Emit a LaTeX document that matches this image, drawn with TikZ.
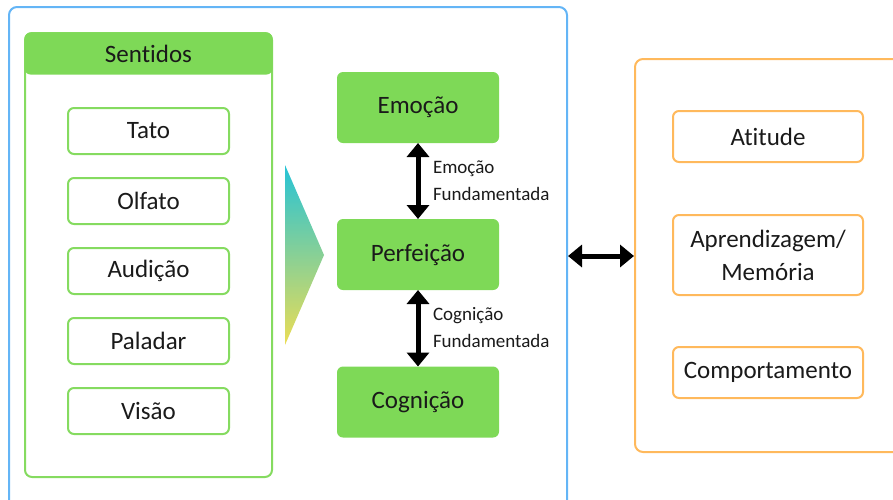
\documentclass[tikz,border=0pt]{standalone}
\usepackage{fontspec}
\setmainfont{Carlito}[Ligatures=NoCommon]
\usetikzlibrary{arrows.meta}
\definecolor{gfill}{HTML}{7ED957}
\definecolor{gline}{HTML}{85DB60}
\definecolor{bline}{HTML}{64B5F6}
\definecolor{oline}{HTML}{FFB95C}
\definecolor{txt}{HTML}{1A1A1A}
\definecolor{tealc}{HTML}{26C3D6}
\definecolor{midc}{HTML}{88CBA0}
\definecolor{yelc}{HTML}{EBDD55}
\begin{document}
\begin{tikzpicture}[x=1pt,y=-1pt,
  every node/.style={inner sep=0pt, outer sep=0pt, text=txt},
  bigfont/.style={font=\fontsize{25}{33}\selectfont},
  sensebox/.style={draw=gline, line width=2pt, rounded corners=6pt, fill=white,
     minimum width=161pt, minimum height=46pt, bigfont},
  greenbox/.style={fill=gfill, rounded corners=6pt, minimum width=162pt,
     minimum height=71pt, bigfont},
  orbox/.style={draw=oline, line width=2pt, rounded corners=6pt, fill=white,
     minimum width=190pt, bigfont, align=center},
  lbl/.style={font=\fontsize{19}{27}\selectfont, align=left, anchor=west},
  bigarrow/.style={line width=5pt, {Triangle[width=22pt,length=14pt]}-{Triangle[width=22pt,length=14pt]}}
]
\useasboundingbox (0,0) rectangle (893,499);
\clip (0,0) rectangle (893,499);
% outer containers
\draw[bline, line width=2pt, rounded corners=8pt] (9,7) rectangle (567,530);
\draw[oline, line width=2pt, rounded corners=8pt] (635,59) rectangle (930,452);
% Sentidos group
\draw[gline, line width=2pt, rounded corners=7pt] (25,33) rectangle (272,477);
\node[fill=gfill, rounded corners=6pt, minimum width=248pt, minimum height=42pt, bigfont] (sent) at (148.5,53.5) {Sentidos};
\node[sensebox] (tato) at (148.5,131) {Tato};
\node[sensebox] (olfato) at (148.5,201) {Olfato};
\node[sensebox] (audicao) at (148.5,271) {Audição};
\node[sensebox] (paladar) at (148.5,341) {Paladar};
\node[sensebox] (visao) at (148.5,411) {Visão};
% gradient triangle
\shade[top color=tealc, middle color=midc, bottom color=yelc] (285,165) -- (324,255) -- (285,345) -- cycle;
% central boxes
\node[greenbox] (emo) at (418,107.5) {Emoção};
\node[greenbox] (perf) at (418,254.5) {Perfeição};
\node[greenbox] (cog) at (418,402) {Cognição};
\draw[bigarrow] (emo.south) -- (perf.north);
\draw[bigarrow] (perf.south) -- (cog.north);
\node[lbl] (l1) at (433,181) {Emoção\\Fundamentada};
\node[lbl] (l2) at (433,328) {Cognição\\Fundamentada};
% right boxes
\node[orbox, minimum height=51pt] (atit) at (768,136.5) {Atitude};
\node[orbox, minimum height=80pt] (apr) at (768,255) {Aprendizagem/\\Memória};
\node[orbox, minimum height=51pt] (comp) at (768,372.5) {Comportamento};
% connector between groups
\coordinate (bR) at (568,256);
\coordinate (oL) at (634,256);
\draw[bigarrow] (bR) -- (oL);
\end{tikzpicture}
\end{document}
